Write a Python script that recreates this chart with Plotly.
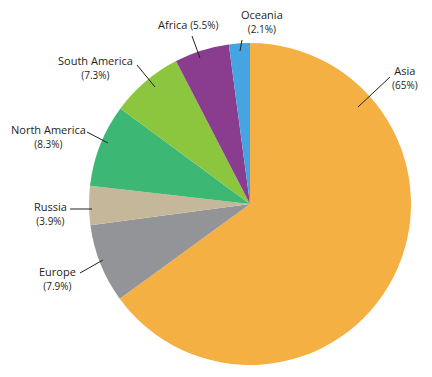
import plotly.graph_objects as go

W, H = 432, 377

regions = ["Asia", "Europe", "Russia", "North America", "South America", "Africa", "Oceania"]
shares = [65, 7.9, 3.9, 8.3, 7.3, 5.5, 2.1]
share_labels = ["65%", "7.9%", "3.9%", "8.3%", "7.3%", "5.5%", "2.1%"]
colors = ["#F5B043", "#929497", "#C5B79A", "#3DB874", "#8CC63F", "#8A3C8E", "#45A5E2"]

# label layout (pixel positions): text centre, leader line start/end, single-line flag
label_layout = {
    "Asia":          dict(text=(405, 78), line=((358, 107), (390, 77)), one=False),
    "Europe":        dict(text=(57, 278), line=((80, 273), (103, 260)), one=False),
    "Russia":        dict(text=(50, 213), line=((70, 209), (92, 209)), one=False),
    "North America": dict(text=(48, 136), line=((87, 132), (108, 143)), one=False),
    "South America": dict(text=(95, 67), line=((137, 65), (155, 87)), one=False),
    "Africa":        dict(text=(188, 25), line=((192, 36), (200, 58)), one=True),
    "Oceania":       dict(text=(262, 21), line=((242, 40), (240, 51)), one=False),
}

cx, cy, r = 250, 204, 161

def px(x, y):
    return x / W, 1 - y / H

fig = go.Figure(go.Pie(
    labels=regions,
    values=shares,
    sort=False,
    direction="clockwise",
    rotation=0,
    marker=dict(colors=colors, line=dict(width=0)),
    textinfo="none",
    hoverinfo="label+percent",
    showlegend=False,
    domain=dict(x=[(cx - r) / W, (cx + r) / W], y=[1 - (cy + r) / H, 1 - (cy - r) / H]),
))

shapes = []
annotations = []
for name, lab in zip(regions, share_labels):
    cfg = label_layout[name]
    (x0, y0), (x1, y1) = cfg["line"]
    a0 = px(x0, y0)
    a1 = px(x1, y1)
    shapes.append(dict(type="line", xref="paper", yref="paper",
                       x0=a0[0], y0=a0[1], x1=a1[0], y1=a1[1],
                       line=dict(color="#231F20", width=1)))
    tx, ty = px(*cfg["text"])
    if cfg["one"]:
        txt = f"{name} <span style='font-size:10px'>({lab})</span>"
    else:
        txt = f"{name}<br><span style='font-size:10px'>({lab})</span>"
    annotations.append(dict(x=tx, y=ty, xref="paper", yref="paper", text=txt,
                            showarrow=False, align="center",
                            xanchor="center", yanchor="middle",
                            font=dict(family="Open Sans", size=11, color="#231F20")))

fig.update_layout(
    width=W, height=H,
    margin=dict(l=0, r=0, t=0, b=0),
    paper_bgcolor="white",
    plot_bgcolor="white",
    shapes=shapes,
    annotations=annotations,
)

fig.write_html("out.html", config={"displayModeBar": False},
               post_script="document.body.style.margin='0px';")
